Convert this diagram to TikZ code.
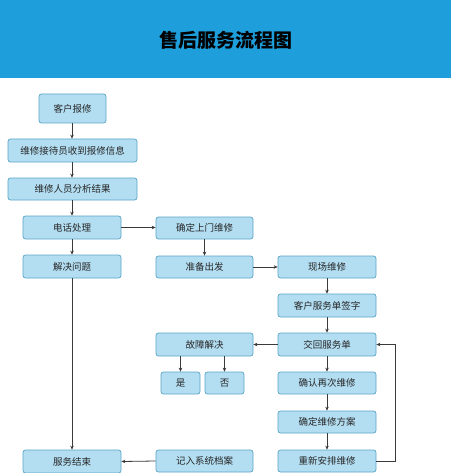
\documentclass[tikz,border=0pt]{standalone}
\usepackage{fontspec}
\newfontfamily\cjk{Noto Sans CJK SC}
\usetikzlibrary{arrows.meta}
\definecolor{hdr}{HTML}{1E9EDB}
\definecolor{boxfill}{HTML}{B3DEF2}
\definecolor{boxline}{HTML}{5AA5C5}
\definecolor{arr}{HTML}{3A3A3A}
\tikzset{
  flowbox/.style={draw=boxline, fill=boxfill, rounded corners=2.5pt, line width=0.7pt, inner sep=0pt, font=\cjk\fontsize{9.5}{10}\selectfont, text=black!85},
  flowarr/.style={draw=arr, line width=0.8pt, -{Stealth[length=4pt,width=3.5pt]}}
}
\newcommand{\bx}[5]{\node[flowbox, minimum width=#4-#2, minimum height=#5-#3] (#1) at ({(#2+#4)/2},{(#3+#5)/2})}
\begin{document}
\begin{tikzpicture}[x=1pt,y=-1pt]
\useasboundingbox (0,0) rectangle (451,473);
\fill[white] (0,0) rectangle (451,473);
\fill[hdr] (0,0) rectangle (451,78);
\node[font=\cjk\bfseries\fontsize{19}{22}\selectfont, text=black] (title) at (225.5,40) {售后服务流程图};

\bx{a}{39}{94}{106}{123} {客户报修};
\bx{b}{8}{139}{137}{162} {维修接待员收到报修信息};
\bx{c}{8}{178}{137}{200} {维修人员分析结果};
\bx{d}{23}{216}{121}{239} {电话处理};
\bx{e}{23}{255}{121}{278} {解决问题};
\bx{f}{156}{217}{253}{239} {确定上门维修};
\bx{g}{156}{256}{253}{278} {准备出发};
\bx{h}{278}{256}{376}{278} {现场维修};
\bx{i}{278}{294}{376}{317} {客户服务单签字};
\bx{j}{278}{333}{376}{356} {交回服务单};
\bx{k}{156}{333}{253}{356} {故障解决};
\bx{yes}{161}{372}{200}{394} {是};
\bx{no}{205}{372}{244}{394} {否};
\bx{l}{278}{372}{376}{394} {确认再次维修};
\bx{m}{278}{411}{376}{433} {确定维修方案};
\bx{n}{278}{450}{376}{472} {重新安排维修};
\bx{o}{156}{450}{253}{472} {记入系统档案};
\bx{p}{23}{450}{121}{473} {服务结束};

\draw[flowarr] (a.south -| 72,0) -- (b.north -| 72,0);
\draw[flowarr] (b.south -| 72,0) -- (c.north -| 72,0);
\draw[flowarr] (c.south -| 72,0) -- (d.north -| 72,0);
\draw[flowarr] (d.east) -- (d.east -| f.west);
\draw[flowarr] (d.south -| 72,0) -- (e.north -| 72,0);
\draw[flowarr] (e.south -| 72,0) -- (p.north -| 72,0);
\draw[flowarr] (f.south) -- (g.north);
\draw[flowarr] (g.east) -- (h.west);
\draw[flowarr] (h.south) -- (i.north);
\draw[flowarr] (i.south) -- (j.north);
\draw[flowarr] (j.west) -- (k.east);
\draw[flowarr] (k.south -| yes.north) -- (yes.north);
\draw[flowarr] (k.south -| no.north) -- (no.north);
\draw[flowarr] (j.south) -- (l.north);
\draw[flowarr] (l.south) -- (m.north);
\draw[flowarr] (m.south) -- (n.north);
\draw[flowarr] (n.east) -- (395,461) |- (j.east);
\draw[flowarr] (o.west) -- (p.east);
\end{tikzpicture}
\end{document}
